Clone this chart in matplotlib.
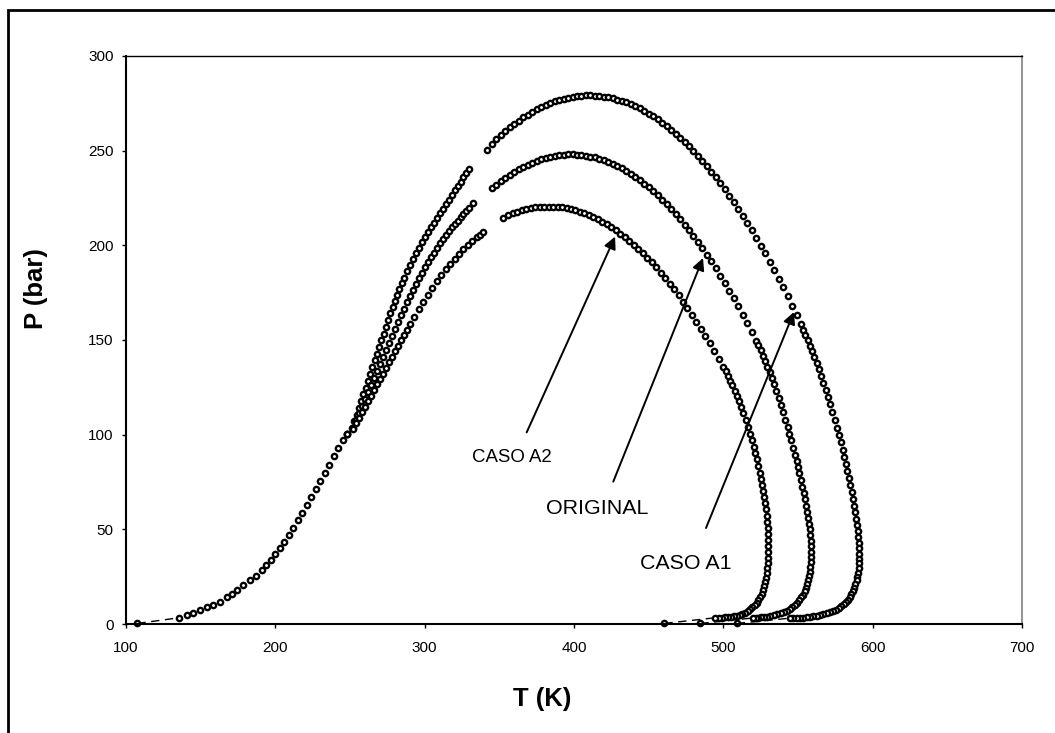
import matplotlib.pyplot as plt
from matplotlib.patches import Rectangle

plt.rcParams['font.family'] = ['Liberation Sans', 'DejaVu Sans']

# common part of the bubble branch (all three envelopes overlap here)
t_bub_common = [135.7, 140.6, 145.1, 149.6, 154.0, 158.5, 162.9, 167.4, 171.0, 174.5,
                178.5, 183.0, 187.0, 191.0, 194.0, 197.0, 200.0, 203.0, 206.0, 209.0,
                212.0, 215.0, 218.0, 221.0, 224.0, 227.0, 230.0, 233.0, 236.0, 239.0,
                242.0, 245.0]
p_bub_common = [3.3, 4.8, 6.0, 7.4, 8.8, 10.2, 11.8, 14.1, 16.0, 18.0,
                20.6, 23.0, 25.6, 28.5, 31.0, 33.8, 36.8, 40.0, 43.4, 47.0,
                50.8, 54.7, 58.7, 62.8, 67.0, 71.2, 75.5, 79.8, 84.1, 88.5,
                92.9, 97.3]

# upper bubble branches
t_bub_a1 = [248, 251.5, 253, 254.5, 256, 257.5, 259, 260.5, 262, 263.5, 265, 266.5, 268,
            269.5, 271, 272.5, 274, 275.5, 277, 278.5, 280, 281.5, 283, 284.5, 286, 288,
            290, 292, 294, 296, 298, 300, 302, 304, 306, 308, 310, 312, 314, 316, 318,
            320, 322, 324, 326, 328, 329.7]
p_bub_a1 = [100.5, 103.6, 107.1, 110.6, 114.2, 117.8, 121.3, 124.9, 128.5, 132.0, 135.6,
            139.2, 142.7, 146.3, 149.9, 153.4, 157.0, 160.5, 164.1, 167.5, 170.8, 174.0,
            177.1, 180.1, 183.0, 186.5, 189.7, 192.8, 195.8, 198.7, 201.5, 204.2, 206.9,
            209.5, 212.0, 214.5, 217.0, 219.4, 221.8, 224.2, 226.6, 229.0, 231.3, 233.6,
            235.9, 238.1, 240.2]
t_bub_orig = [248, 252, 254, 256, 258, 260, 262, 264, 266, 268, 270, 272, 274, 276, 278,
              280, 282, 284, 286, 288, 290, 292, 294, 296, 298, 300, 302, 304, 306, 308,
              310, 312, 314, 316, 318, 320, 322, 324, 326, 328, 330, 332.6]
p_bub_orig = [100.5, 103.7, 107.5, 111.2, 115.0, 118.7, 122.4, 126.1, 129.9, 133.6, 137.4,
              141.1, 144.8, 148.6, 152.3, 156.0, 159.6, 163.1, 166.6, 170.0, 173.3, 176.5,
              179.6, 182.6, 185.5, 188.3, 191.0, 193.6, 196.2, 198.7, 201.1, 203.4, 205.6,
              207.6, 209.5, 211.3, 213.1, 214.8, 216.5, 218.2, 219.9, 222.2]
t_bub_a2 = [248, 252, 254, 256, 258, 260, 262, 264, 266, 268, 270, 272, 274, 276, 278,
            280, 282, 284, 286, 288, 290, 293, 296, 299, 302, 305, 308, 311, 314, 317,
            320, 323, 326, 329, 332, 335, 337, 339.1]
p_bub_a2 = [100.5, 102.9, 105.9, 108.8, 111.8, 114.7, 117.6, 120.6, 123.5, 126.5, 129.4,
            132.3, 135.3, 138.2, 141.1, 144.0, 146.9, 149.8, 152.6, 155.4, 158.2, 162.3,
            166.3, 170.2, 173.9, 177.5, 181.0, 184.3, 187.4, 190.3, 193.0, 195.5, 197.9,
            200.1, 202.2, 204.2, 205.6, 206.9]

# dew branches
t_dew_a1 = [342, 345.3, 348, 351, 354, 357, 360, 363, 366, 369, 372, 375, 378, 381, 384,
            387, 390, 393, 396, 399, 402, 405, 408, 411, 414, 417, 420, 423, 426, 429,
            432, 435, 438, 441, 444, 447, 450, 453, 456, 459, 462, 465, 468, 471, 474,
            477, 480, 483, 486, 489, 492, 495, 498, 501, 504, 507, 510, 513, 516, 519,
            522, 525, 528, 531, 534, 537, 540, 543, 546, 549, 552, 553.5, 555, 556.5,
            558, 559.5, 561, 562.5, 564, 565.5, 567, 568.5, 570, 571.5, 573, 574.5, 576,
            577.2, 578.5, 579.8, 581, 582, 583, 584, 585, 585.9, 586.8, 587.6, 588.3,
            588.9, 589.5, 590, 590.4, 590.7, 590.9, 591, 591, 590.8, 590.6, 590.2, 589.8,
            589.2, 588.5, 587.7, 586.8, 585.8, 584.6, 583.3, 582, 580.5, 579, 577.3,
            575.5, 573.5, 571.5, 569.3, 567, 564.8, 562.5, 560.2, 558, 555.8, 553.5,
            551.2, 549, 546.8, 544.6]
p_dew_a1 = [250.2, 253.4, 256.1, 258.3, 260.4, 262.3, 264.2, 265.9, 267.6, 269.1, 270.5,
            271.9, 273.1, 274.2, 275.1, 276.0, 276.8, 277.5, 278.0, 278.5, 278.8, 279.1,
            279.2, 279.2, 279.1, 278.9, 278.6, 278.2, 277.7, 277.0, 276.3, 275.5, 274.5,
            273.4, 272.3, 271.0, 269.6, 268.1, 266.5, 264.8, 263.0, 261.1, 259.0, 256.9,
            254.6, 252.3, 249.8, 247.2, 244.5, 241.8, 238.9, 235.9, 232.7, 229.5, 226.2,
            222.8, 219.2, 215.6, 211.8, 207.9, 203.9, 199.9, 195.7, 191.4, 186.9, 182.4,
            177.8, 173.1, 168.2, 163.3, 158.2, 155.5, 152.8, 150.0, 147.0, 144.0, 141.0,
            137.8, 134.5, 131.0, 127.5, 123.8, 120.0, 116.0, 112.0, 107.8, 103.5, 99.8,
            96.0, 92.0, 88.0, 84.5, 81.0, 77.2, 73.5, 69.8, 66.0, 62.5, 59.0, 55.7, 52.5,
            49.2, 46.0, 43.0, 40.0, 37.2, 34.5, 32.0, 29.5, 27.2, 25.0, 23.0, 21.0, 19.2,
            17.5, 15.8, 14.3, 12.9, 11.6, 10.5, 9.4, 8.5, 7.6, 6.9, 6.2, 5.6, 5.1, 4.7,
            4.3, 4.0, 3.8, 3.6, 3.4, 3.3, 3.2, 3.15, 3.1]

t_dew_orig = [345.3, 348, 351, 354, 357, 360, 363, 366, 369, 372, 375, 378, 381, 384, 387,
              390, 393, 396, 399, 402, 405, 408, 411, 414, 417, 420, 423, 426, 429, 432,
              435, 438, 441, 444, 447, 450, 453, 456, 459, 462, 465, 468, 471, 474, 477,
              480, 483, 486, 489, 492, 495, 498, 501, 504, 507, 510, 513, 516, 519, 522,
              523.5, 525, 526.5, 528, 529.5, 531, 532.5, 534, 535.5, 537, 538.5, 540,
              541.5, 543, 544.2, 545.5, 546.8, 548, 549, 550, 551, 552, 553, 554, 554.8,
              555.5, 556.2, 556.8, 557.3, 557.8, 558.2, 558.5, 558.7, 558.8, 558.8, 558.6,
              558.3, 558, 557.5, 557, 556.3, 555.5, 554.6, 553.5, 552.3, 551, 549.6, 548,
              546.3, 544.5, 542.5, 540.5, 538.3, 536, 533.8, 531.5, 529.2, 527, 525.2,
              523.5, 521.8, 520]
p_dew_orig = [230.5, 232.0, 233.9, 235.6, 237.2, 238.8, 240.2, 241.4, 242.6, 243.7, 244.6,
              245.4, 246.2, 246.7, 247.2, 247.6, 247.8, 248.0, 248.0, 247.9, 247.7, 247.4,
              246.9, 246.4, 245.7, 244.9, 244.0, 243.0, 241.9, 240.6, 239.2, 237.8, 236.2,
              234.5, 232.6, 230.7, 228.6, 226.5, 224.2, 221.8, 219.3, 216.6, 213.9, 211.0,
              208.1, 205.0, 201.8, 198.4, 195.0, 191.5, 187.8, 184.0, 180.1, 176.1, 172.0,
              167.7, 163.4, 158.9, 154.3, 149.6, 147.1, 144.5, 141.8, 139.0, 136.0, 133.0,
              129.8, 126.5, 123.0, 119.5, 115.8, 112.0, 108.0, 104.0, 100.5, 97.0, 93.2,
              89.5, 86.2, 83.0, 79.5, 76.0, 72.5, 69.0, 65.8, 62.5, 59.2, 56.0, 53.0, 50.0,
              47.0, 44.0, 41.0, 38.0, 35.2, 32.5, 30.0, 27.5, 25.2, 23.0, 21.0, 19.0, 17.2,
              15.5, 14.0, 12.5, 11.2, 10.0, 9.0, 8.0, 7.1, 6.3, 5.7, 5.1, 4.6, 4.2, 3.9,
              3.7, 3.55, 3.4, 3.3, 3.2]

t_dew_a2 = [352.7, 356, 359, 362, 365, 368, 371, 374, 377, 380, 383, 386, 389, 392, 395,
            398, 401, 404, 407, 410, 413, 416, 419, 422, 425, 428, 431, 434, 437, 440,
            443, 446, 449, 452, 455, 458, 461, 464, 467, 470, 473, 476, 479, 482, 485,
            488, 491, 494, 497, 500, 501.5, 503, 504.5, 506, 507.5, 509, 510.5, 512,
            513.5, 515, 516.5, 518, 519.3, 520.5, 521.5, 522.5, 523.5, 524.5, 525.3, 526,
            526.8, 527.5, 528.1, 528.6, 529, 529.4, 529.7, 530, 530.1, 530.2, 530.1, 530,
            529.8, 529.5, 529.1, 528.6, 528, 527.3, 526.5, 525.6, 524.6, 523.5, 522.3,
            521, 519.5, 518, 516.3, 514.5, 512.8, 511, 509, 507, 505, 503, 501, 499,
            496.8, 494.6]
p_dew_a2 = [214.6, 216.0, 216.9, 217.8, 218.5, 219.1, 219.6, 220.0, 220.3, 220.4, 220.5,
            220.4, 220.3, 220.0, 219.6, 219.1, 218.5, 217.8, 216.9, 216.0, 214.9, 213.8,
            212.5, 211.1, 209.6, 207.9, 206.2, 204.4, 202.4, 200.4, 198.2, 195.9, 193.5,
            191.0, 188.4, 185.6, 182.8, 179.8, 176.8, 173.6, 170.3, 166.9, 163.4, 159.7,
            156.0, 152.1, 148.2, 144.1, 139.9, 135.6, 133.4, 131.0, 128.6, 126.0, 123.3,
            120.5, 117.6, 114.5, 111.3, 108.0, 104.3, 100.5, 97.0, 93.5, 90.2, 87.0, 83.5,
            80.0, 76.8, 73.5, 70.2, 67.0, 63.8, 60.5, 57.2, 54.0, 50.8, 47.5, 44.2, 41.0,
            38.0, 35.0, 32.2, 29.5, 27.0, 24.5, 22.2, 20.0, 18.0, 16.0, 14.3, 12.7, 11.3,
            10.0, 8.9, 7.8, 6.9, 6.0, 5.4, 4.8, 4.4, 4.0, 3.8, 3.6, 3.5, 3.4, 3.35, 3.3]

# dashed extensions down to P = 0
dash_t = [[107.6, 135.7], [460.5, 494.6], [484.6, 520.0], [509.0, 544.6]]
dash_p = [[0.3, 3.3], [0.3, 3.3], [0.3, 3.2], [0.3, 3.1]]

fig = plt.figure(figsize=(10.55, 7.33), dpi=100)
ax = fig.add_axes([126 / 1055, 1 - 624 / 733, 896 / 1055, 568 / 733])

# outer chart frame
fig.add_artist(Rectangle((8 / 1055, -0.05), 1.2, 1 - 10 / 733 + 0.05,
                         transform=fig.transFigure, fill=False, lw=2, ec='black'))

mk = dict(ls='none', marker='o', ms=3.8, mfc='white', mec='black', mew=1.7, clip_on=False)

for t, p in zip(dash_t, dash_p):
    ax.plot(t, p, color='black', lw=1, dashes=(6, 4))
    ax.plot(t[:1], p[:1], **mk)

ax.plot(t_bub_common, p_bub_common, **mk)
ax.plot(t_bub_a1, p_bub_a1, **mk)
ax.plot(t_bub_orig, p_bub_orig, **mk)
ax.plot(t_bub_a2, p_bub_a2, **mk)
ax.plot(t_dew_a1, p_dew_a1, **mk)
ax.plot(t_dew_orig, p_dew_orig, **mk)
ax.plot(t_dew_a2, p_dew_a2, **mk)

arrow = dict(arrowstyle='-|>', mutation_scale=18, lw=1.4, color='black', shrinkA=0, shrinkB=0)
ax.annotate('', xy=(427.5, 204.6), xytext=(368.3, 101.2), arrowprops=arrow)
ax.annotate('', xy=(486.4, 193.3), xytext=(426.3, 75.2), arrowprops=arrow)
ax.annotate('', xy=(547.3, 164.8), xytext=(488.4, 50.7), arrowprops=arrow)
ax.text(358.5, 87.7, 'CASO A2', fontsize=13.4, ha='center', va='center')
ax.text(415.4, 61.1, 'ORIGINAL', fontsize=15.4, ha='center', va='center')
ax.text(474.7, 32.2, 'CASO A1', fontsize=15.4, ha='center', va='center')

ax.set_xlim(100, 700)
ax.set_ylim(0, 300)
ax.set_xticks([100, 200, 300, 400, 500, 600, 700])
ax.set_yticks([0, 50, 100, 150, 200, 250, 300])
ax.tick_params(direction='out', length=3, width=1, labelsize=11)
ax.tick_params(axis='x', pad=9)
ax.tick_params(axis='y', pad=6)

for s in ['left', 'bottom']:
    ax.spines[s].set_linewidth(1.5)
ax.spines['top'].set_linewidth(1)
ax.spines['right'].set_linewidth(1.2)
ax.spines['right'].set_color('#808080')

ax.set_xlabel('T (K)', fontsize=18.5, fontweight='bold')
ax.set_ylabel('P (bar)', fontsize=18.5, fontweight='bold')
ax.xaxis.set_label_coords(0.464, -0.111)
ax.yaxis.set_label_coords(-0.087, 0.59)

fig.savefig('out.png', dpi=100, facecolor='white')
